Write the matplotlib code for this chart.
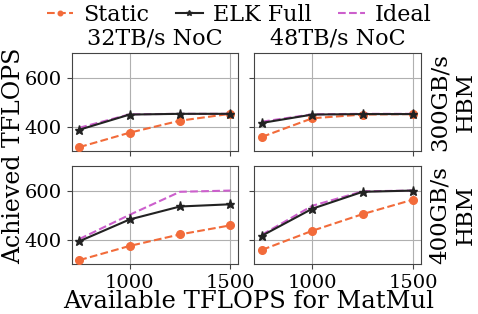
import numpy as np
import matplotlib
matplotlib.use("Agg")
import matplotlib.pyplot as plt

plt.rcParams['font.family'] = 'DejaVu Serif'

# available TFLOPS for matmul (x axis)
tflops = [750, 1000, 1250, 1500]

noc_labels = ["32TB/s NoC", "48TB/s NoC"]
hbm_labels = ["300GB/s\nHBM", "400GB/s\nHBM"]

# achieved TFLOPS, [row=HBM][col=NoC]
static = [
    [[316, 375, 424, 452], [358, 434, 449, 451]],
    [[316, 374, 421, 458], [358, 436, 504, 563]],
]
elk_full = [
    [[387, 449, 452, 452], [415, 449, 451, 451]],
    [[393, 482, 535, 544], [416, 526, 595, 600]],
]
ideal = [
    [[395, 450, 452, 452], [420, 450, 452, 452]],
    [[402, 501, 595, 600], [420, 538, 597, 600]],
]

c_static = '#f26b3a'
c_elk = '#222222'
c_ideal = '#cc5fcc'

fig, axes = plt.subplots(2, 2, figsize=(4.78, 3.14), dpi=100, sharex=True, sharey=True)
fig.subplots_adjust(left=0.150, right=0.880, top=0.831, bottom=0.159, wspace=0.10, hspace=0.153)

for r in range(2):
    for c in range(2):
        ax = axes[r][c]
        ax.grid(True, color='#b0b0b0', linewidth=0.8, zorder=0)
        ax.plot(tflops, static[r][c], '--o', color=c_static, ms=5.5, lw=1.5, label='Static', zorder=3)
        ax.plot(tflops, ideal[r][c], '--', color=c_ideal, lw=1.5, label='Ideal', zorder=3)
        ax.plot(tflops, elk_full[r][c], '-*', color=c_elk, ms=6.5, lw=1.5, label='ELK Full', zorder=4)
        ax.tick_params(labelsize=14, color='#444444')
        for s in ax.spines.values():
            s.set_color('#444444')
        if r == 0:
            ax.set_title(noc_labels[c], fontsize=16)
        if c == 1:
            ax.yaxis.set_label_position('right')
            ax.set_ylabel(hbm_labels[r], fontsize=16.5, labelpad=6)

axes[0][0].set_ylim(300, 700)
axes[0][0].set_yticks([400, 600])
axes[0][0].set_xticks([1000, 1500])

h, l = axes[0][0].get_legend_handles_labels()
order = [0, 2, 1]
fig.legend([h[i] for i in order], [l[i] for i in order], loc='upper center',
           bbox_to_anchor=(0.5, 1.052), ncol=3, frameon=False, fontsize=16,
           handlelength=1.2, columnspacing=1.2, handletextpad=0.45, markerscale=0.6)

fig.text(0.028, 0.505, 'Achieved TFLOPS', rotation=90, ha='center', va='center', fontsize=17)
fig.text(0.52, 0.018, 'Available TFLOPS for MatMul', ha='center', va='baseline', fontsize=17.5)

fig.savefig('out.png', dpi=100)
